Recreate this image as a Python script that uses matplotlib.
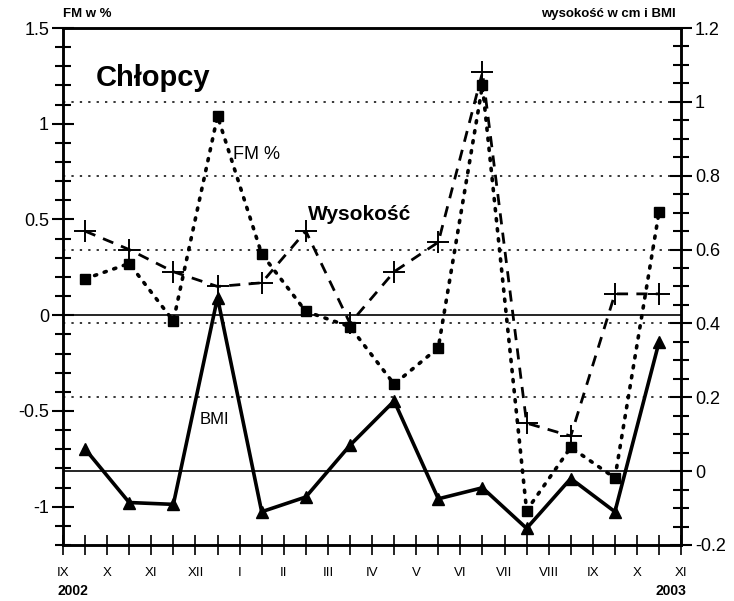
import matplotlib
matplotlib.use("Agg")
import matplotlib.pyplot as plt
from matplotlib.ticker import MultipleLocator, FuncFormatter

plt.rcParams["font.family"] = ["Liberation Sans", "DejaVu Sans"]

# mid-month positions, IX 2002 .. X 2003
months_x = list(range(14))
fm = [0.19, 0.27, -0.03, 1.04, 0.32, 0.02, -0.06, -0.36, -0.17, 1.20, -1.02, -0.69, -0.85, 0.54]
height = [0.65, 0.60, 0.54, 0.50, 0.51, 0.65, 0.40, 0.54, 0.62, 1.08, 0.13, 0.095, 0.48, 0.48]
bmi = [0.06, -0.085, -0.09, 0.47, -0.11, -0.07, 0.07, 0.19, -0.075, -0.045, -0.155, -0.02, -0.11, 0.35]
month_labels = ["IX", "X", "XI", "XII", "I", "II", "III", "IV", "V", "VI", "VII", "VIII", "IX", "X", "XI"]

fig = plt.figure(figsize=(7.34, 6.01), dpi=100)
ax = fig.add_axes([0.0858, 0.0932, 0.928 - 0.0858, 0.9534 - 0.0932])
ax2 = ax.twinx()

ax.set_xlim(-0.5, 13.5)
ax.set_ylim(-1.2, 1.5)
ax2.set_ylim(-0.2, 1.2)

# reference lines
for v in [0.2, 0.4, 0.6, 0.8, 1.0]:
    ax2.axhline(v, color="black", lw=1.1, ls=(0, (1.5, 4)), zorder=1)
ax.axhline(0, color="black", lw=1.2, zorder=1)
ax2.axhline(0, color="black", lw=1.2, zorder=1)

ax.plot(months_x, fm, color="black", lw=2.6, ls=(0, (0.6, 2.2)), dash_capstyle="round",
        marker="s", ms=6.5, zorder=3)
ax2.plot(months_x, height, color="black", lw=2.0, ls=(0, (4, 3)),
         marker="+", ms=16, mew=1.4, zorder=3)
ax2.plot(months_x, bmi, color="black", lw=2.6, ls="-",
         marker="^", ms=9, zorder=3)

# ticks
ax.yaxis.set_major_locator(MultipleLocator(0.5))
ax.yaxis.set_minor_locator(MultipleLocator(0.1))
ax.yaxis.set_major_formatter(FuncFormatter(lambda v, p: f"{v:g}"))
ax2.yaxis.set_major_locator(MultipleLocator(0.2))
ax2.yaxis.set_minor_locator(MultipleLocator(0.05))
ax2.yaxis.set_major_formatter(FuncFormatter(lambda v, p: f"{round(v, 2):g}"))

ax.set_xticks([i - 0.5 for i in range(15)])
ax.set_xticklabels(month_labels)
ax.set_xticks(months_x, minor=True)

ax.tick_params(axis="y", which="major", direction="inout", length=16, width=1.5, labelsize=13, pad=2)
ax.tick_params(axis="y", which="minor", direction="inout", length=11, width=1.5)
ax2.tick_params(axis="y", which="major", direction="inout", length=16, width=1.5, labelsize=13, pad=2)
ax2.tick_params(axis="y", which="minor", direction="inout", length=11, width=1.5)
ax.tick_params(axis="x", which="both", direction="inout", length=14, width=1.2, pad=9)
ax.tick_params(axis="x", which="major", labelsize=9.5)

for a in (ax, ax2):
    for s in a.spines.values():
        s.set_linewidth(1.8)

# texts
fig.text(63 / 734, 1 - 14 / 601, "FM w %", fontsize=9.5, fontweight="bold", ha="left", va="center")
fig.text(676 / 734, 1 - 14 / 601, "wysokość w cm i BMI", fontsize=9.5, fontweight="bold", ha="right", va="center")
fig.text(58 / 734, 1 - 591 / 601, "2002", fontsize=10, fontweight="bold", ha="left", va="center")
fig.text(686 / 734, 1 - 591 / 601, "2003", fontsize=10, fontweight="bold", ha="right", va="center")

ax.text(0.25, 1.24, "Chłopcy", fontsize=21, fontweight="bold", ha="left", va="center")
ax.text(3.35, 0.84, "FM %", fontsize=13, ha="left", va="center")
ax2.text(5.05, 0.695, "Wysokość", fontsize=15, fontweight="bold", ha="left", va="center")
ax2.text(2.6, 0.14, "BMI", fontsize=12, ha="left", va="center")

fig.savefig("out.png", dpi=100)
